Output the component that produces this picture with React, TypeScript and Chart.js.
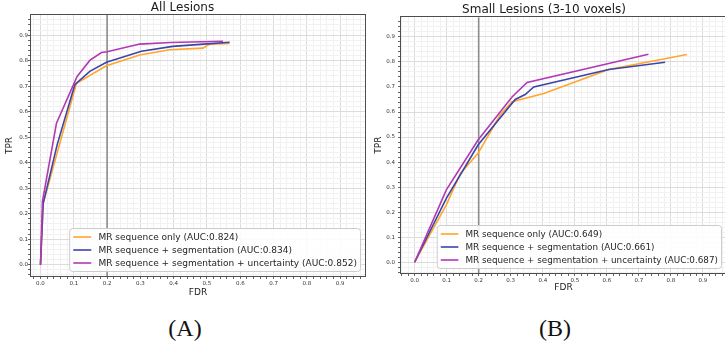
import React, { useEffect, useRef } from 'react';
import { Chart, registerables } from 'chart.js';

Chart.register(...registerables);

const FONT = '"DejaVu Sans", sans-serif';

// ---------- data ----------
const SERIES_NAMES = [
  'MR sequence only',
  'MR sequence + segmentation',
  'MR sequence + segmentation + uncertainty',
];
const SERIES_COLORS = ['#ffa62b', '#3c45aa', '#b238b4'];

const ALL_TITLE = 'All Lesions';
const ALL_AUC = ['0.824', '0.834', '0.852'];
const ALL_FDR_SEQ = [0, 0.008, 0.108, 0.198, 0.298, 0.388, 0.488, 0.508, 0.568];
const ALL_TPR_SEQ = [0, 0.24, 0.711, 0.78, 0.822, 0.843, 0.849, 0.865, 0.867];
const ALL_FDR_SEG = [0, 0.008, 0.05, 0.103, 0.148, 0.198, 0.303, 0.397, 0.5, 0.568];
const ALL_TPR_SEG = [0, 0.24, 0.47, 0.706, 0.758, 0.794, 0.837, 0.856, 0.866, 0.872];
const ALL_FDR_UNC = [0, 0.006, 0.048, 0.11, 0.148, 0.183, 0.2, 0.298, 0.39, 0.548];
const ALL_TPR_UNC = [0, 0.25, 0.555, 0.738, 0.801, 0.832, 0.835, 0.865, 0.871, 0.876];

const SMALL_TITLE = 'Small Lesions (3-10 voxels)';
const SMALL_AUC = ['0.649', '0.661', '0.687'];
const SMALL_FDR_SEQ = [0, 0.099, 0.143, 0.198, 0.267, 0.304, 0.403, 0.606, 0.85];
const SMALL_TPR_SEQ = [0, 0.229, 0.355, 0.435, 0.588, 0.641, 0.674, 0.77, 0.83];
const SMALL_FDR_SEG = [0, 0.099, 0.198, 0.314, 0.345, 0.372, 0.606, 0.782];
const SMALL_TPR_SEG = [0, 0.255, 0.468, 0.65, 0.67, 0.7, 0.77, 0.799];
const SMALL_FDR_UNC = [0, 0.099, 0.198, 0.304, 0.351, 0.73];
const SMALL_TPR_UNC = [0, 0.289, 0.488, 0.66, 0.718, 0.831];

const TICK_LABELS = ['0.0', '0.1', '0.2', '0.3', '0.4', '0.5', '0.6', '0.7', '0.8', '0.9'];
const X_TITLE = 'FDR';
const Y_TITLE = 'TPR';
const MARKED_FDR = 0.2;

// ---------- helpers ----------
function tickLabel(v: number) {
  for (let i = 0; i < TICK_LABELS.length; i++) {
    if (Math.abs(v - i / 10) < 1e-6) return TICK_LABELS[i];
  }
  return '';
}
const isMajor = (v: number) => Math.abs(v * 10 - Math.round(v * 10)) < 1e-6;

function gridColor() {
  return (c: any) => {
    const v = c.tick ? c.tick.value : 0;
    return isMajor(v) ? '#dcdcdc' : '#f1f1f1';
  };
}

const frameLegendPlugin = {
  id: 'frameLegend',
  beforeDatasetsDraw(chart: any) {
    const { ctx, chartArea: a } = chart;
    const px = chart.scales.x.getPixelForValue(MARKED_FDR);
    ctx.save();
    ctx.strokeStyle = '#8c8c8c';
    ctx.lineWidth = 1.6;
    ctx.beginPath();
    ctx.moveTo(px, a.top);
    ctx.lineTo(px, a.bottom);
    ctx.stroke();
    ctx.restore();
  },
  afterDraw(chart: any, _args: any, opts: any) {
    const { ctx, chartArea: a } = chart;
    ctx.save();
    // frame (spines)
    ctx.strokeStyle = '#4d4d4d';
    ctx.lineWidth = 1;
    ctx.strokeRect(Math.round(a.left) - 0.5, Math.round(a.top) - 0.5, Math.round(a.right - a.left) + 1, Math.round(a.bottom - a.top) + 1);

    // legend
    const fs = opts.fontSize;
    ctx.font = `${fs}px ${FONT}`;
    const labels: string[] = chart.data.datasets.map((d: any) => d.label);
    const tw = Math.max(...labels.map((l) => ctx.measureText(l).width));
    const pad = 0.4 * fs;
    const lineLen = 2 * fs;
    const gap = 0.8 * fs;
    const rowH = 13;
    const w = pad + lineLen + gap + tw + pad;
    const h = 43;
    const right = a.right - 4.5;
    const bottom = a.bottom - 4.5;
    const left = right - w;
    const top = bottom - h;
    ctx.beginPath();
    if (ctx.roundRect) ctx.roundRect(left, top, w, h, 3);
    else ctx.rect(left, top, w, h);
    ctx.fillStyle = 'rgba(255,255,255,0.85)';
    ctx.fill();
    ctx.strokeStyle = '#cccccc';
    ctx.lineWidth = 1;
    ctx.stroke();
    ctx.textBaseline = 'middle';
    ctx.textAlign = 'left';
    labels.forEach((l, i) => {
      const y = top + 8.5 + i * rowH;
      ctx.strokeStyle = chart.data.datasets[i].borderColor;
      ctx.lineWidth = 1.6;
      ctx.beginPath();
      ctx.moveTo(left + pad, y);
      ctx.lineTo(left + pad + lineLen, y);
      ctx.stroke();
      ctx.fillStyle = '#262626';
      ctx.fillText(l, left + pad + lineLen + gap, y + 0.5);
    });
    ctx.restore();
  },
};

type PanelCfg = {
  left: number;
  width: number;
  height: number;
  title: string;
  auc: string[];
  fdr: number[][];
  tpr: number[][];
  xMin: number;
  xMax: number;
  yMin: number;
  yMax: number;
  yAxisWidth: number;
  xAxisHeight: number;
  padRight: number;
  titlePadTop: number;
  titlePadBottom: number;
  yTickPad: number;
  xTickPad: number;
  yTitlePad: number;
  xTitlePad: number;
  legendFont: number;
};

function Panel({ cfg }: { cfg: PanelCfg }) {
  const ref = useRef<HTMLCanvasElement>(null);
  useEffect(() => {
    if (!ref.current) return;
    const datasets = cfg.fdr.map((xs, i) => ({
      label: `${SERIES_NAMES[i]} (AUC:${cfg.auc[i]})`,
      data: xs.map((x, j) => ({ x, y: cfg.tpr[i][j] })),
      borderColor: SERIES_COLORS[i],
      backgroundColor: SERIES_COLORS[i],
      borderWidth: 1.6,
      pointRadius: 0,
      tension: 0,
      fill: false,
      order: 3 - i,
    }));
    const chart = new Chart(ref.current, {
      type: 'line',
      data: { datasets },
      options: {
        responsive: false,
        animation: false,
        events: [],
        layout: { padding: { left: 0, right: cfg.padRight, top: 0, bottom: 0 } },
        plugins: {
          legend: { display: false },
          tooltip: { enabled: false },
          title: {
            display: true,
            text: cfg.title,
            color: '#1a1a1a',
            font: { family: FONT, size: 12, weight: 'normal' },
            padding: { top: cfg.titlePadTop, bottom: cfg.titlePadBottom },
          },
          frameLegend: { fontSize: cfg.legendFont },
        } as any,
        scales: {
          x: {
            type: 'linear',
            min: cfg.xMin,
            max: cfg.xMax,
            afterFit: (s: any) => {
              s.height = cfg.xAxisHeight;
            },
            ticks: {
              stepSize: 0.02,
              autoSkip: false,
              maxRotation: 0,
              includeBounds: false,
              callback: (v: any) => tickLabel(Number(v)),
              color: '#333',
              font: { family: FONT, size: 5.5 },
              padding: cfg.xTickPad,
            },
            grid: {
              color: gridColor(),
              lineWidth: 1,
              tickLength: 3,
              tickColor: '#666',
              tickWidth: 1,
            },
            border: { display: false },
            title: {
              display: true,
              text: X_TITLE,
              color: '#1a1a1a',
              font: { family: FONT, size: 9 },
              padding: { top: 0, bottom: cfg.xTitlePad },
            },
          },
          y: {
            type: 'linear',
            min: cfg.yMin,
            max: cfg.yMax,
            afterFit: (s: any) => {
              s.width = cfg.yAxisWidth;
            },
            ticks: {
              stepSize: 0.02,
              autoSkip: false,
              includeBounds: false,
              callback: (v: any) => tickLabel(Number(v)),
              color: '#333',
              font: { family: FONT, size: 5.5 },
              padding: cfg.yTickPad,
            },
            grid: {
              color: gridColor(),
              lineWidth: 1,
              tickLength: 3,
              tickColor: '#666',
              tickWidth: 1,
            },
            border: { display: false },
            title: {
              display: true,
              text: Y_TITLE,
              color: '#1a1a1a',
              font: { family: FONT, size: 9 },
              padding: { top: cfg.yTitlePad, bottom: 0 },
            },
          },
        },
      } as any,
      plugins: [frameLegendPlugin],
    });
    return () => chart.destroy();
  }, [cfg]);
  return (
    <canvas
      ref={ref}
      width={cfg.width}
      height={cfg.height}
      style={{ position: 'absolute', left: cfg.left, top: 0, width: cfg.width, height: cfg.height }}
    />
  );
}

const PANEL_A: PanelCfg = {
  left: 0,
  width: 366,
  height: 300,
  title: ALL_TITLE,
  auc: ALL_AUC,
  fdr: [ALL_FDR_SEQ, ALL_FDR_SEG, ALL_FDR_UNC],
  tpr: [ALL_TPR_SEQ, ALL_TPR_SEG, ALL_TPR_UNC],
  xMin: -0.0285,
  xMax: 0.9745,
  yMin: -0.044,
  yMax: 0.979,
  yAxisWidth: 31,
  xAxisHeight: 24,
  padRight: 1,
  titlePadTop: 0.5,
  titlePadBottom: 0.1,
  yTickPad: 0,
  xTickPad: 1,
  yTitlePad: 4.6,
  xTitlePad: 1.6,
  legendFont: 9,
};

const PANEL_B: PanelCfg = {
  left: 362,
  width: 364,
  height: 300,
  title: SMALL_TITLE,
  auc: SMALL_AUC,
  fdr: [SMALL_FDR_SEQ, SMALL_FDR_SEG, SMALL_FDR_UNC],
  tpr: [SMALL_TPR_SEQ, SMALL_TPR_SEG, SMALL_TPR_UNC],
  xMin: -0.0425,
  xMax: 0.972,
  yMin: -0.043,
  yMax: 0.978,
  yAxisWidth: 39,
  xAxisHeight: 27,
  padRight: 0,
  titlePadTop: 3,
  titlePadBottom: 0,
  yTickPad: 3,
  xTickPad: 1,
  yTitlePad: 11.3,
  xTitlePad: 6.6,
  legendFont: 8.8,
};

const CAPTIONS = ['(A)', '(B)'];

export default function App() {
  return (
    <div
      style={{
        position: 'absolute',
        left: 0,
        top: 0,
        width: 725,
        height: 346,
        overflow: 'hidden',
        background: '#ffffff',
      }}
    >
      <Panel cfg={PANEL_A} />
      <Panel cfg={PANEL_B} />
      {CAPTIONS.map((c, i) => (
        <div
          key={c}
          style={{
            position: 'absolute',
            left: (i === 0 ? 185 : 555) - 50,
            top: 314,
            width: 100,
            height: 28,
            lineHeight: '28px',
            textAlign: 'center',
            fontFamily: '"Liberation Serif", "DejaVu Serif", serif',
            fontSize: 24,
            color: '#111',
          }}
        >
          {c}
        </div>
      ))}
    </div>
  );
}
